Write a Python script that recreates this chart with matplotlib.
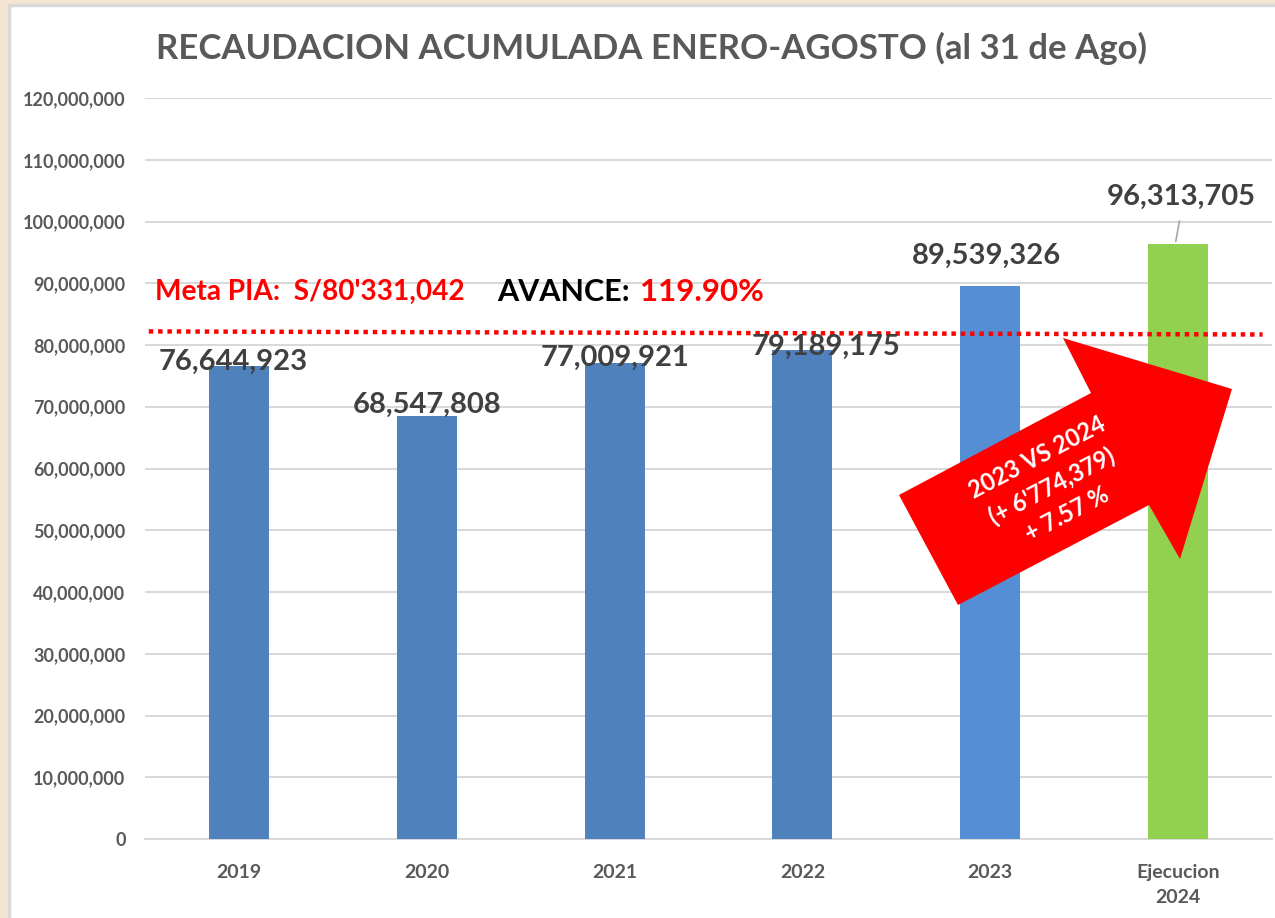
import matplotlib
matplotlib.use("Agg")
import matplotlib.pyplot as plt
from matplotlib.patches import Polygon, Rectangle
from matplotlib.ticker import FuncFormatter

# ---- data ----
categories = ["2019", "2020", "2021", "2022", "2023", "Ejecucion\n2024"]
values = [76644923, 68547808, 77009921, 79189175, 89539326, 96313705]
value_labels = ["76,644,923", "68,547,808", "77,009,921", "79,189,175", "89,539,326", "96,313,705"]
bar_colors = ["#4F81BD", "#4F81BD", "#4F81BD", "#4F81BD", "#558ED5", "#92D050"]
meta_line_value = 82200000
title = "RECAUDACION ACUMULADA ENERO-AGOSTO (al 31 de Ago)"
meta_text = "Meta PIA:  S/80'331,042"
avance_label = "AVANCE: "
avance_value = "119.90%"
arrow_text = "2023 VS 2024\n(+ 6'774,379)\n+ 7.57 %"

FONT = "Lato"
GRAY = "#595959"

W, H = 1275, 918
fig = plt.figure(figsize=(W / 100, H / 100), dpi=100)
fig.patch.set_facecolor("white")

def fx(px):
    return px / W

def fy(py):
    return 1 - py / H

# beige frame
fig.patches.append(Rectangle((0, 0), fx(8), 1, transform=fig.transFigure, color="#F5E6D3", zorder=0))
fig.patches.append(Rectangle((0, fy(4)), 1, 4 / H, transform=fig.transFigure, color="#F5E6D3", zorder=0))
fig.patches.append(Rectangle((fx(8), 0), 2 / W, fy(4), transform=fig.transFigure, color="#D9D9D9", zorder=0))
fig.patches.append(Rectangle((fx(8), fy(6)), 1, 2 / H, transform=fig.transFigure, color="#D9D9D9", zorder=0))

ax = fig.add_axes([fx(145), fy(839), fx(1272) - fx(145), fy(98) - fy(839)])
ax.set_facecolor("none")
x = list(range(len(categories)))
ax.bar(x, values, width=0.32, color=bar_colors, zorder=3)
ax.set_xlim(-0.5, len(categories) - 0.5)
ax.set_ylim(0, 120000000)
ax.set_yticks(range(0, 120000001, 10000000))
ax.yaxis.set_major_formatter(FuncFormatter(lambda v, p: f"{int(v):,}"))
ax.set_xticks(x)
ax.set_xticklabels(categories)
ax.grid(axis="y", color="#D9D9D9", linewidth=1.5, zorder=0)
for s in ["top", "right", "left"]:
    ax.spines[s].set_visible(False)
ax.spines["bottom"].set_color("#D9D9D9")
ax.spines["bottom"].set_linewidth(1.5)
ax.tick_params(axis="both", length=0, colors=GRAY)
ax.tick_params(axis="y", pad=14)
ax.tick_params(axis="x", pad=18)
for lab in ax.get_yticklabels():
    lab.set_fontfamily(FONT)
    lab.set_fontweight("bold")
    lab.set_fontsize(13)
for lab in ax.get_xticklabels():
    lab.set_fontfamily(FONT)
    lab.set_fontweight("bold")
    lab.set_fontsize(14)
    lab.set_linespacing(1.6)

# data labels (offsets in points relative to bar top)
offsets = [(-4, 3), (0, 8), (0, 4), (17, 2), (-3, 22), (2, 34)]
for i, (v, lab) in enumerate(zip(values, value_labels)):
    dx, dy = offsets[i]
    ax.annotate(lab, xy=(i, v), xytext=(dx, dy), textcoords="offset points",
                ha="center", va="center", fontsize=21, fontweight="bold",
                color="#404040", family=FONT, zorder=5)
# leader line for last label
ax.annotate("", xy=(4.985, values[5]), xytext=(5.01, values[5] + 4200000),
            arrowprops=dict(arrowstyle="-", color="#A6A6A6", lw=1.2), zorder=4)

# dotted meta line
ax.plot([-0.48, 5.45], [meta_line_value, meta_line_value - 500000], color="red",
        linewidth=3.2, linestyle=(0, (1, 1.1)), zorder=4, solid_capstyle="butt")

# title
fig.text(fx(651), fy(48), title, ha="center", va="center", fontsize=25,
         fontweight="bold", color=GRAY, family=FONT)

# meta / avance texts
fig.text(fx(155), fy(292), meta_text, ha="left", va="center", fontsize=20.2,
         fontweight="bold", color="red", family=FONT)
fig.text(fx(497), fy(292), avance_label, ha="left", va="center", fontsize=22,
         fontweight="bold", color="black", family=FONT)
fig.text(fx(640), fy(292), avance_value, ha="left", va="center", fontsize=22.5,
         fontweight="bold", color="red", family=FONT)

# big red arrow
arrow_px = [(899, 495), (1091, 393), (1063, 338), (1232, 389),
            (1180, 559), (1149, 505), (958, 605)]
poly = Polygon([(fx(a), fy(b)) for a, b in arrow_px], closed=True,
               transform=fig.transFigure, facecolor="red", edgecolor="none", zorder=10)
fig.patches.append(poly)
fig.text(fx(1052), fy(486), arrow_text, ha="center", va="center", rotation=27.6,
         rotation_mode="anchor", fontsize=17, fontweight="bold", color="white",
         family=FONT, linespacing=1.45, zorder=11)

fig.savefig("out.png", dpi=100, facecolor="white")
